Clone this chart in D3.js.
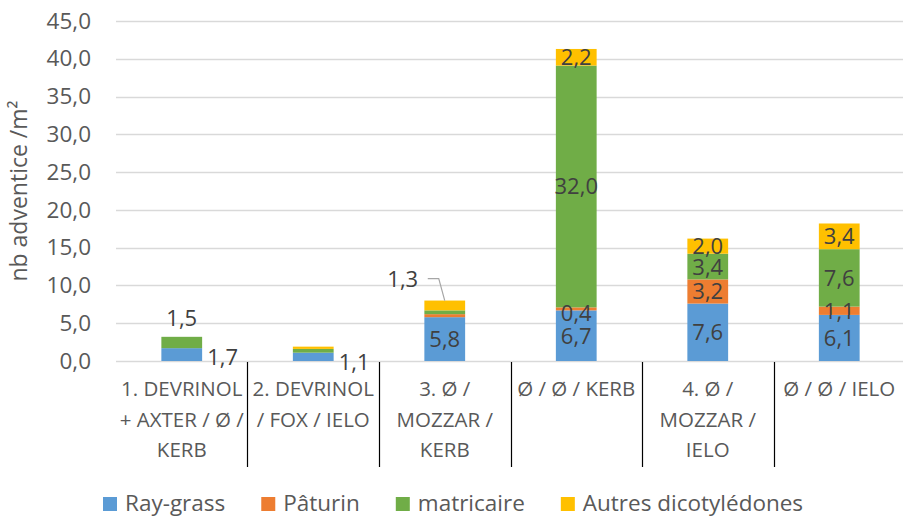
<!DOCTYPE html>
<html>
<head>
<meta charset="utf-8">
<script src="https://cdn.jsdelivr.net/npm/d3@7"></script>
<style>
  html, body { margin: 0; padding: 0; background: #ffffff; }
  svg { display: block; font-family: "Open Sans", "Noto Sans", sans-serif; }
</style>
</head>
<body>
<svg id="chart" width="903" height="517"></svg>
<script>
// ---------- data ----------
const categoryLines = [
  ["1. DEVRINOL", "+ AXTER / Ø /", "KERB"],
  ["2. DEVRINOL", "/ FOX / IELO"],
  ["3. Ø /", "MOZZAR /", "KERB"],
  ["Ø / Ø / KERB"],
  ["4. Ø /", "MOZZAR /", "IELO"],
  ["Ø / Ø / IELO"]
];
const categories = categoryLines.map(l => l.join(" "));
const seriesNames = ["Ray-grass", "Pâturin", "matricaire", "Autres dicotylédones"];
const raygrass   = [1.7, 1.1, 5.8, 6.7, 7.6, 6.1];
const paturin    = [0.0, 0.0, 0.4, 0.4, 3.2, 1.1];
const matricaire = [1.5, 0.5, 0.5, 32.0, 3.4, 7.6];
const autres     = [0.0, 0.3, 1.3, 2.2, 2.0, 3.4];
const yTicks = [0, 5, 10, 15, 20, 25, 30, 35, 40, 45];
const colors = ["#5B9BD5", "#ED7D31", "#70AD47", "#FFC000"];

// ---------- layout ----------
const svg = d3.select("#chart");
const plot = { left: 116, right: 905, top: 21, bottom: 361 };
const fmt = v => d3.format(".1f")(v).replace(".", ",");

const x = d3.scaleBand().domain(categories).range([plot.left, plot.right]).paddingInner(0.69).paddingOuter(0.345);
const y = d3.scaleLinear().domain([0, 45]).range([plot.bottom, plot.top]);

const table = categories.map((c, i) => ({
  cat: c, "Ray-grass": raygrass[i], "Pâturin": paturin[i], "matricaire": matricaire[i], "Autres dicotylédones": autres[i]
}));
const stacked = d3.stack().keys(seriesNames)(table);

// gridlines
svg.append("g").selectAll("line").data(yTicks).join("line")
  .attr("x1", plot.left).attr("x2", 903)
  .attr("y1", d => Math.round(y(d)) + 0.5).attr("y2", d => Math.round(y(d)) + 0.5)
  .attr("stroke", "#d9d9d9").attr("stroke-width", 1.3);

// y axis labels
const yAxis = d3.axisLeft(y).tickValues(yTicks).tickFormat(fmt).tickSize(0).tickPadding(0);
const gy = svg.append("g").attr("transform", `translate(91,0)`).call(yAxis);
gy.select(".domain").remove();
gy.selectAll("text").attr("font-size", 22.5).attr("fill", "#595959").attr("font-family", "'Open Sans', sans-serif");

// y title
svg.append("text")
  .attr("transform", `translate(27,${(plot.top + plot.bottom) / 2}) rotate(-90)`)
  .attr("text-anchor", "middle").attr("font-size", 23).attr("fill", "#595959")
  .text("nb adventice /m²");

// bars
const gBars = svg.append("g");
stacked.forEach((s, si) => {
  gBars.append("g").attr("fill", colors[si]).selectAll("rect").data(s).join("rect")
    .attr("x", d => x(d.data.cat))
    .attr("width", x.bandwidth())
    .attr("y", d => y(d[1]))
    .attr("height", d => Math.max(0, y(d[0]) - y(d[1])));
});

// category separators and labels
const step = x.step();
const gX = svg.append("g");
categories.slice(1).forEach(c => {
  const xx = Math.round(x(c) + x.bandwidth() / 2 - step / 2) + 0.5;
  gX.append("line").attr("x1", xx).attr("x2", xx).attr("y1", 362).attr("y2", 467)
    .attr("stroke", "#000").attr("stroke-width", 1.2);
});
categoryLines.forEach((lines, i) => {
  const cx = x(categories[i]) + x.bandwidth() / 2;
  const t = gX.append("text").attr("text-anchor", "middle").attr("font-size", 20.5).attr("fill", "#595959");
  lines.forEach((ln, k) => {
    t.append("tspan").attr("x", cx).attr("y", 396 + k * 30.5).text(ln);
  });
});

// data labels
const hidden = new Set(["1|0", "3|0", "1|1", "2|1", "3|1", "1|2", "2|2"]);
const gL = svg.append("g").attr("font-size", 22).attr("fill", "#404040");
stacked.forEach((s, si) => {
  s.forEach((d, ci) => {
    const v = d[1] - d[0];
    if (hidden.has(si + "|" + ci)) return;
    const cx = x(d.data.cat) + x.bandwidth() / 2;
    let lx = cx, ly = (y(d[0]) + y(d[1])) / 2 + 8, anchor = "middle";
    if (ci === 0 && si === 2) { ly = y(d[1]) - 11; }
    else if ((ci === 0 || ci === 1) && si === 0) { lx = x(d.data.cat) + x.bandwidth() + 5; anchor = "start"; ly = y(d[1]) + 17; }
    else if (ci === 3 && si === 1) { ly += 4; }
    else if (ci === 2 && si === 3) {
      lx = cx - 42; ly = y(d[1]) - 14;
      const top = y(d[1]);
      gL.append("polyline")
        .attr("points", `${cx - 17},${top - 22} ${cx - 6},${top - 22} ${cx},${top}`)
        .attr("fill", "none").attr("stroke", "#a6a6a6").attr("stroke-width", 1.2);
    }
    gL.append("text").attr("x", lx).attr("y", ly).attr("text-anchor", anchor).text(fmt(v));
  });
});

// legend
const gLeg = svg.append("g").attr("font-size", 22.5).attr("fill", "#595959");
let lx = 103;
seriesNames.forEach((n, i) => {
  gLeg.append("rect").attr("x", lx).attr("y", 497).attr("width", 14).attr("height", 14).attr("fill", colors[i]);
  const t = gLeg.append("text").attr("x", lx + 22).attr("y", 511).text(n);
  lx += 22 + t.node().getComputedTextLength() + 36;
});
</script>
</body>
</html>
